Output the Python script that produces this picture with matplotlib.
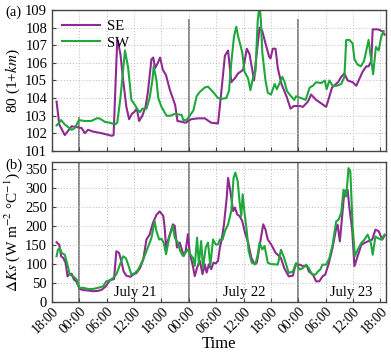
import numpy as np
import matplotlib
matplotlib.use("Agg")
import matplotlib.pyplot as plt

plt.rcParams['font.family'] = ['Liberation Serif', 'DejaVu Serif']
plt.rcParams['mathtext.fontset'] = 'stix'

# hours since 18:00 on July 20
tick_labels = ["18:00", "00:00", "06:00", "12:00", "18:00", "00:00", "06:00",
               "12:00", "18:00", "00:00", "06:00", "12:00", "18:00"]
day_labels = ["July 21", "July 22", "July 23"]
day_pos = [18.2, 42.2, 65.6]
midnights = [6, 30, 54]

# (a) SE
t_a_se = [1.0, 1.6, 2.8, 4.3, 5.5, 6.5, 7.2, 7.9, 9.0, 11.0, 13.1, 13.5, 14.3, 14.6,
          15.0, 15.6, 16.3, 16.9, 17.5, 18.0, 18.6, 19.1, 19.8, 20.5, 21.0, 21.8,
          22.2, 22.6, 23.2, 23.7, 24.3, 25.0, 25.8, 27.0, 27.5, 28.5, 29.3, 30.5,
          32.0, 33.5, 34.9, 36.4, 37.1, 37.9, 38.6, 39.3, 40.0, 40.8, 41.9, 42.7,
          43.3, 44.3, 44.8, 45.5, 46.1, 46.8, 47.6, 47.9, 48.4, 49.0, 49.5, 50.3,
          51.4, 52.3, 53.0, 54.3, 55.0, 56.1, 56.8, 57.9, 59.0, 60.1, 60.7, 61.4,
          62.7, 63.4, 64.1, 64.8, 65.9, 66.7, 67.4, 68.1, 68.9, 69.4, 70.0, 70.3,
          71.4, 72.4, 72.9]
v_a_se = [103.8, 102.5, 101.9, 102.4, 102.35, 102.3, 102.0, 102.2, 102.1, 102.0,
          101.86, 101.9, 107.3, 107.0, 106.5, 105.0, 103.5, 102.8, 103.1, 103.2,
          103.4, 102.7, 103.0, 103.5, 104.3, 106.2, 106.3, 105.7, 106.0, 106.3,
          105.6, 105.3, 104.5, 103.6, 102.7, 102.65, 102.6, 102.8, 102.85, 102.85,
          102.6, 102.56, 104.3, 106.4, 106.7, 104.9, 105.1, 105.4, 105.6, 106.8,
          106.5, 105.0, 106.35, 108.0, 107.8, 107.1, 106.35, 106.25, 106.8, 106.8,
          105.7, 104.8, 104.1, 103.4, 103.55, 103.55, 103.5, 103.8, 104.2, 103.9,
          103.7, 103.5, 104.0, 104.6, 104.9, 105.2, 105.4, 105.0, 104.9, 104.7,
          105.1, 105.5, 105.8, 105.8, 106.1, 107.9, 107.9, 107.8, 107.6]

# (a) SW
t_a_sw = [1.0, 2.0, 2.8, 4.3, 5.0, 5.9, 7.2, 8.6, 9.8, 10.4, 11.6, 12.7, 13.8, 14.3,
          15.0, 16.0, 16.7, 17.4, 18.2, 18.9, 19.3, 19.8, 20.7, 21.4, 22.0, 22.3,
          22.9, 23.3, 24.0, 25.1, 26.0, 26.9, 28.4, 28.8, 29.5, 30.2, 31.0, 31.7,
          32.4, 33.5, 34.2, 35.3, 36.4, 37.1, 38.2, 38.8, 39.3, 39.9, 40.4, 40.8,
          41.7, 42.2, 43.0, 43.5, 44.1, 44.6, 45.1, 45.5, 45.8, 46.1, 46.8, 47.3,
          48.0, 48.8, 49.3, 49.8, 50.5, 51.0, 51.5, 52.4, 53.1, 53.5, 54.6, 55.6,
          56.5, 57.2, 57.9, 59.0, 59.8, 60.2, 60.8, 61.5, 62.5, 63.4, 64.1, 64.5,
          65.2, 65.9, 66.3, 67.0, 67.7, 68.4, 69.4, 69.9, 70.4, 71.0, 71.6, 72.2,
          72.7]
v_a_sw = [102.45, 102.75, 102.5, 102.2, 102.3, 102.75, 102.7, 102.7, 102.85, 102.85,
          102.65, 102.6, 102.5, 102.6, 104.0, 106.7, 105.7, 103.9, 103.6, 103.3,
          103.2, 103.4, 103.4, 104.0, 105.0, 105.8, 105.0, 104.0, 103.5, 103.0,
          103.0, 103.1, 103.05, 102.75, 102.75, 103.0, 103.3, 104.1, 104.35, 104.6,
          104.65, 104.35, 104.0, 103.95, 104.0, 104.4, 106.0, 107.5, 108.05, 107.5,
          106.6, 105.5, 105.1, 104.45, 105.2, 105.5, 108.4, 109.3, 108.4, 106.6,
          105.0, 104.3, 104.2, 104.8, 104.5, 104.8, 105.2, 104.9, 104.4, 104.1,
          103.9, 104.1, 104.0, 103.9, 104.6, 104.7, 104.9, 104.85, 105.0, 104.5,
          105.0, 104.7, 104.7, 104.8, 105.2, 107.3, 107.3, 107.1, 106.2, 105.9,
          105.8, 106.1, 107.3, 106.3, 105.35, 106.9, 106.7, 107.5, 107.8]

# (b) SE
t_b_se = [1.0, 1.6, 2.0, 2.5, 3.0, 3.4, 3.8, 4.3, 4.8, 5.3, 5.8, 6.1, 6.9, 7.9, 9.0,
          10.1, 10.9, 11.8, 12.7, 13.6, 14.1, 14.7, 15.2, 15.7, 16.3, 17.2, 17.8,
          18.5, 19.3, 20.0, 20.7, 21.4, 22.1, 22.9, 23.6, 24.4, 24.7, 25.0, 25.7,
          26.5, 26.9, 27.4, 28.0, 28.4, 28.9, 29.3, 29.8, 30.2, 30.8, 31.3, 31.8,
          32.4, 33.0, 33.5, 33.9, 34.4, 34.9, 35.4, 35.9, 36.4, 36.8, 37.2, 37.7,
          38.3, 38.6, 39.1, 39.7, 40.1, 40.6, 41.1, 41.7, 42.3, 43.0, 43.7, 44.4,
          44.9, 45.5, 46.3, 46.8, 47.3, 48.1, 49.0, 49.5, 50.2, 50.9, 51.9, 52.8,
          53.4, 54.3, 55.0, 55.9, 56.3, 57.2, 57.9, 58.6, 59.3, 59.9, 60.6, 61.5,
          62.3, 62.6, 63.1, 63.6, 64.1, 64.8, 65.2, 65.8, 66.3, 67.0, 67.8, 68.5,
          69.2, 70.2, 70.9, 71.6, 72.4, 72.9]
v_b_se = [157, 150, 120, 115, 102, 67, 73, 74, 59, 54, 41, 34, 31, 30, 28, 29, 32, 41,
          57, 60, 133, 129, 107, 80, 69, 66, 72, 76, 89, 111, 164, 177, 207, 229, 238,
          226, 195, 143, 173, 204, 200, 143, 156, 140, 121, 134, 178, 129, 99, 68, 90,
          108, 73, 99, 77, 99, 86, 103, 101, 108, 143, 164, 204, 274, 326, 291, 239,
          248, 230, 226, 213, 182, 156, 116, 99, 103, 147, 204, 190, 164, 150, 129,
          124, 115, 89, 67, 69, 98, 98, 94, 94, 80, 72, 54, 54, 67, 72, 98, 142, 194,
          203, 159, 225, 291, 295, 247, 190, 94, 120, 150, 155, 159, 164, 190, 186,
          164, 174]

# (b) SW
t_b_sw = [1.0, 1.3, 1.7, 2.1, 2.8, 3.3, 3.9, 4.7, 5.4, 6.0, 6.9, 7.9, 9.0, 10.1, 11.2,
          11.9, 12.7, 13.4, 14.1, 14.9, 15.6, 16.2, 16.7, 17.4, 18.2, 18.9, 19.6,
          20.4, 21.1, 21.8, 22.5, 22.9, 23.5, 24.0, 24.5, 25.0, 25.7, 26.5, 26.9,
          27.6, 28.1, 28.7, 29.3, 29.8, 30.3, 30.9, 31.3, 31.8, 32.2, 32.7, 33.1,
          33.7, 34.2, 34.7, 35.3, 35.9, 36.4, 36.8, 37.4, 37.9, 38.6, 39.3, 39.8,
          40.2, 40.7, 41.1, 41.5, 41.8, 42.2, 42.7, 43.1, 43.8, 44.6, 45.1, 45.5,
          46.1, 46.6, 47.3, 48.1, 48.8, 49.5, 50.2, 50.9, 51.9, 52.8, 53.5, 54.3,
          55.0, 55.7, 56.3, 57.0, 57.8, 58.3, 58.8, 59.3, 60.1, 60.8, 61.5, 62.3,
          62.8, 63.4, 63.9, 64.5, 65.0, 65.4, 65.9, 66.4, 67.0, 67.8, 68.5, 69.2,
          69.9, 70.3, 70.9, 71.4, 72.2, 72.9]
v_b_sw = [120, 137, 142, 129, 124, 102, 72, 67, 59, 37, 37, 34, 34, 37, 41, 54, 57,
          63, 72, 98, 120, 115, 98, 72, 76, 85, 102, 124, 146, 168, 212, 186, 164, 166,
          155, 125, 169, 200, 169, 156, 134, 121, 130, 138, 125, 116, 95, 169, 99, 160,
          90, 143, 156, 95, 164, 151, 151, 164, 164, 186, 204, 239, 326, 340, 318, 265,
          226, 283, 235, 186, 134, 103, 99, 125, 156, 138, 147, 103, 99, 99, 98, 137,
          115, 76, 80, 102, 85, 89, 98, 89, 72, 72, 80, 85, 98, 98, 115, 150, 212, 216,
          234, 295, 277, 352, 343, 199, 120, 137, 155, 164, 177, 155, 124, 172, 168,
          164, 177]

c_se = "#8e2a90"
c_sw = "#1ea83c"
fs = 10.5

fig = plt.figure(figsize=(3.91, 3.56), dpi=100)
ax1 = fig.add_axes([0.133, 0.576, 0.854, 0.396])
ax2 = fig.add_axes([0.133, 0.152, 0.854, 0.393])

xt = np.arange(0, 73, 6)
for ax in (ax1, ax2):
    ax.set_xlim(0, 73.2)
    ax.set_xticks(xt)
    ax.grid(True, linestyle=(0, (1, 2)), color="#bbbbbb", linewidth=0.7)
    ax.tick_params(direction="in", labelsize=fs, length=3, color="#444444")
    for s in ax.spines.values():
        s.set_color("#444444")
        s.set_linewidth(1.0)

# (a)
ax1.vlines(midnights[0], 101, 102.9, color="#888888", lw=1.4, zorder=1)
ax1.vlines(midnights[1:], 101, 108.5, color="#888888", lw=1.4, zorder=1)
ax1.plot(t_a_se, v_a_se, color=c_se, lw=1.5, label="SE")
ax1.plot(t_a_sw, v_a_sw, color=c_sw, lw=1.5, label="SW")
ax1.set_ylim(101, 109)
ax1.set_yticks(np.arange(101, 110, 1))
ax1.set_xticklabels([])
ax1.set_ylabel(r"80 (1+$\mathit{km}$)", fontsize=fs + 0.5, labelpad=2)
ax1.legend(loc="upper left", frameon=False, fontsize=fs, handlelength=2.6,
           borderaxespad=0.3, labelspacing=0.2, handletextpad=0.5)
fig.text(0.013, 0.965, "(a)", fontsize=fs, va="center")

# (b)
for m in midnights:
    ax2.axvline(m, color="#888888", lw=1.4, zorder=1)
ax2.plot(t_b_se, v_b_se, color=c_se, lw=1.5)
ax2.plot(t_b_sw, v_b_sw, color=c_sw, lw=1.5)
ax2.set_ylim(0, 368)
ax2.set_yticks(np.arange(0, 351, 50))
ax2.set_xticklabels(tick_labels, rotation=45, ha="right", rotation_mode="anchor",
                    fontsize=fs - 0.5)
ax2.tick_params(axis="x", pad=2)
ax2.set_ylabel(r"$\Delta\mathit{Ks}$ (W m$^{-2}$ °C$^{-1}$)", fontsize=fs + 0.5, labelpad=2)
ax2.set_xlabel("Time", fontsize=fs + 1.5)
ax2.xaxis.set_label_coords(0.5, -0.245)
for d, p in zip(day_labels, day_pos):
    ax2.text(p, 24, d, fontsize=fs, ha="center", va="center")
fig.text(0.013, 0.535, "(b)", fontsize=fs, va="center")

fig.savefig("out.png", dpi=100)
